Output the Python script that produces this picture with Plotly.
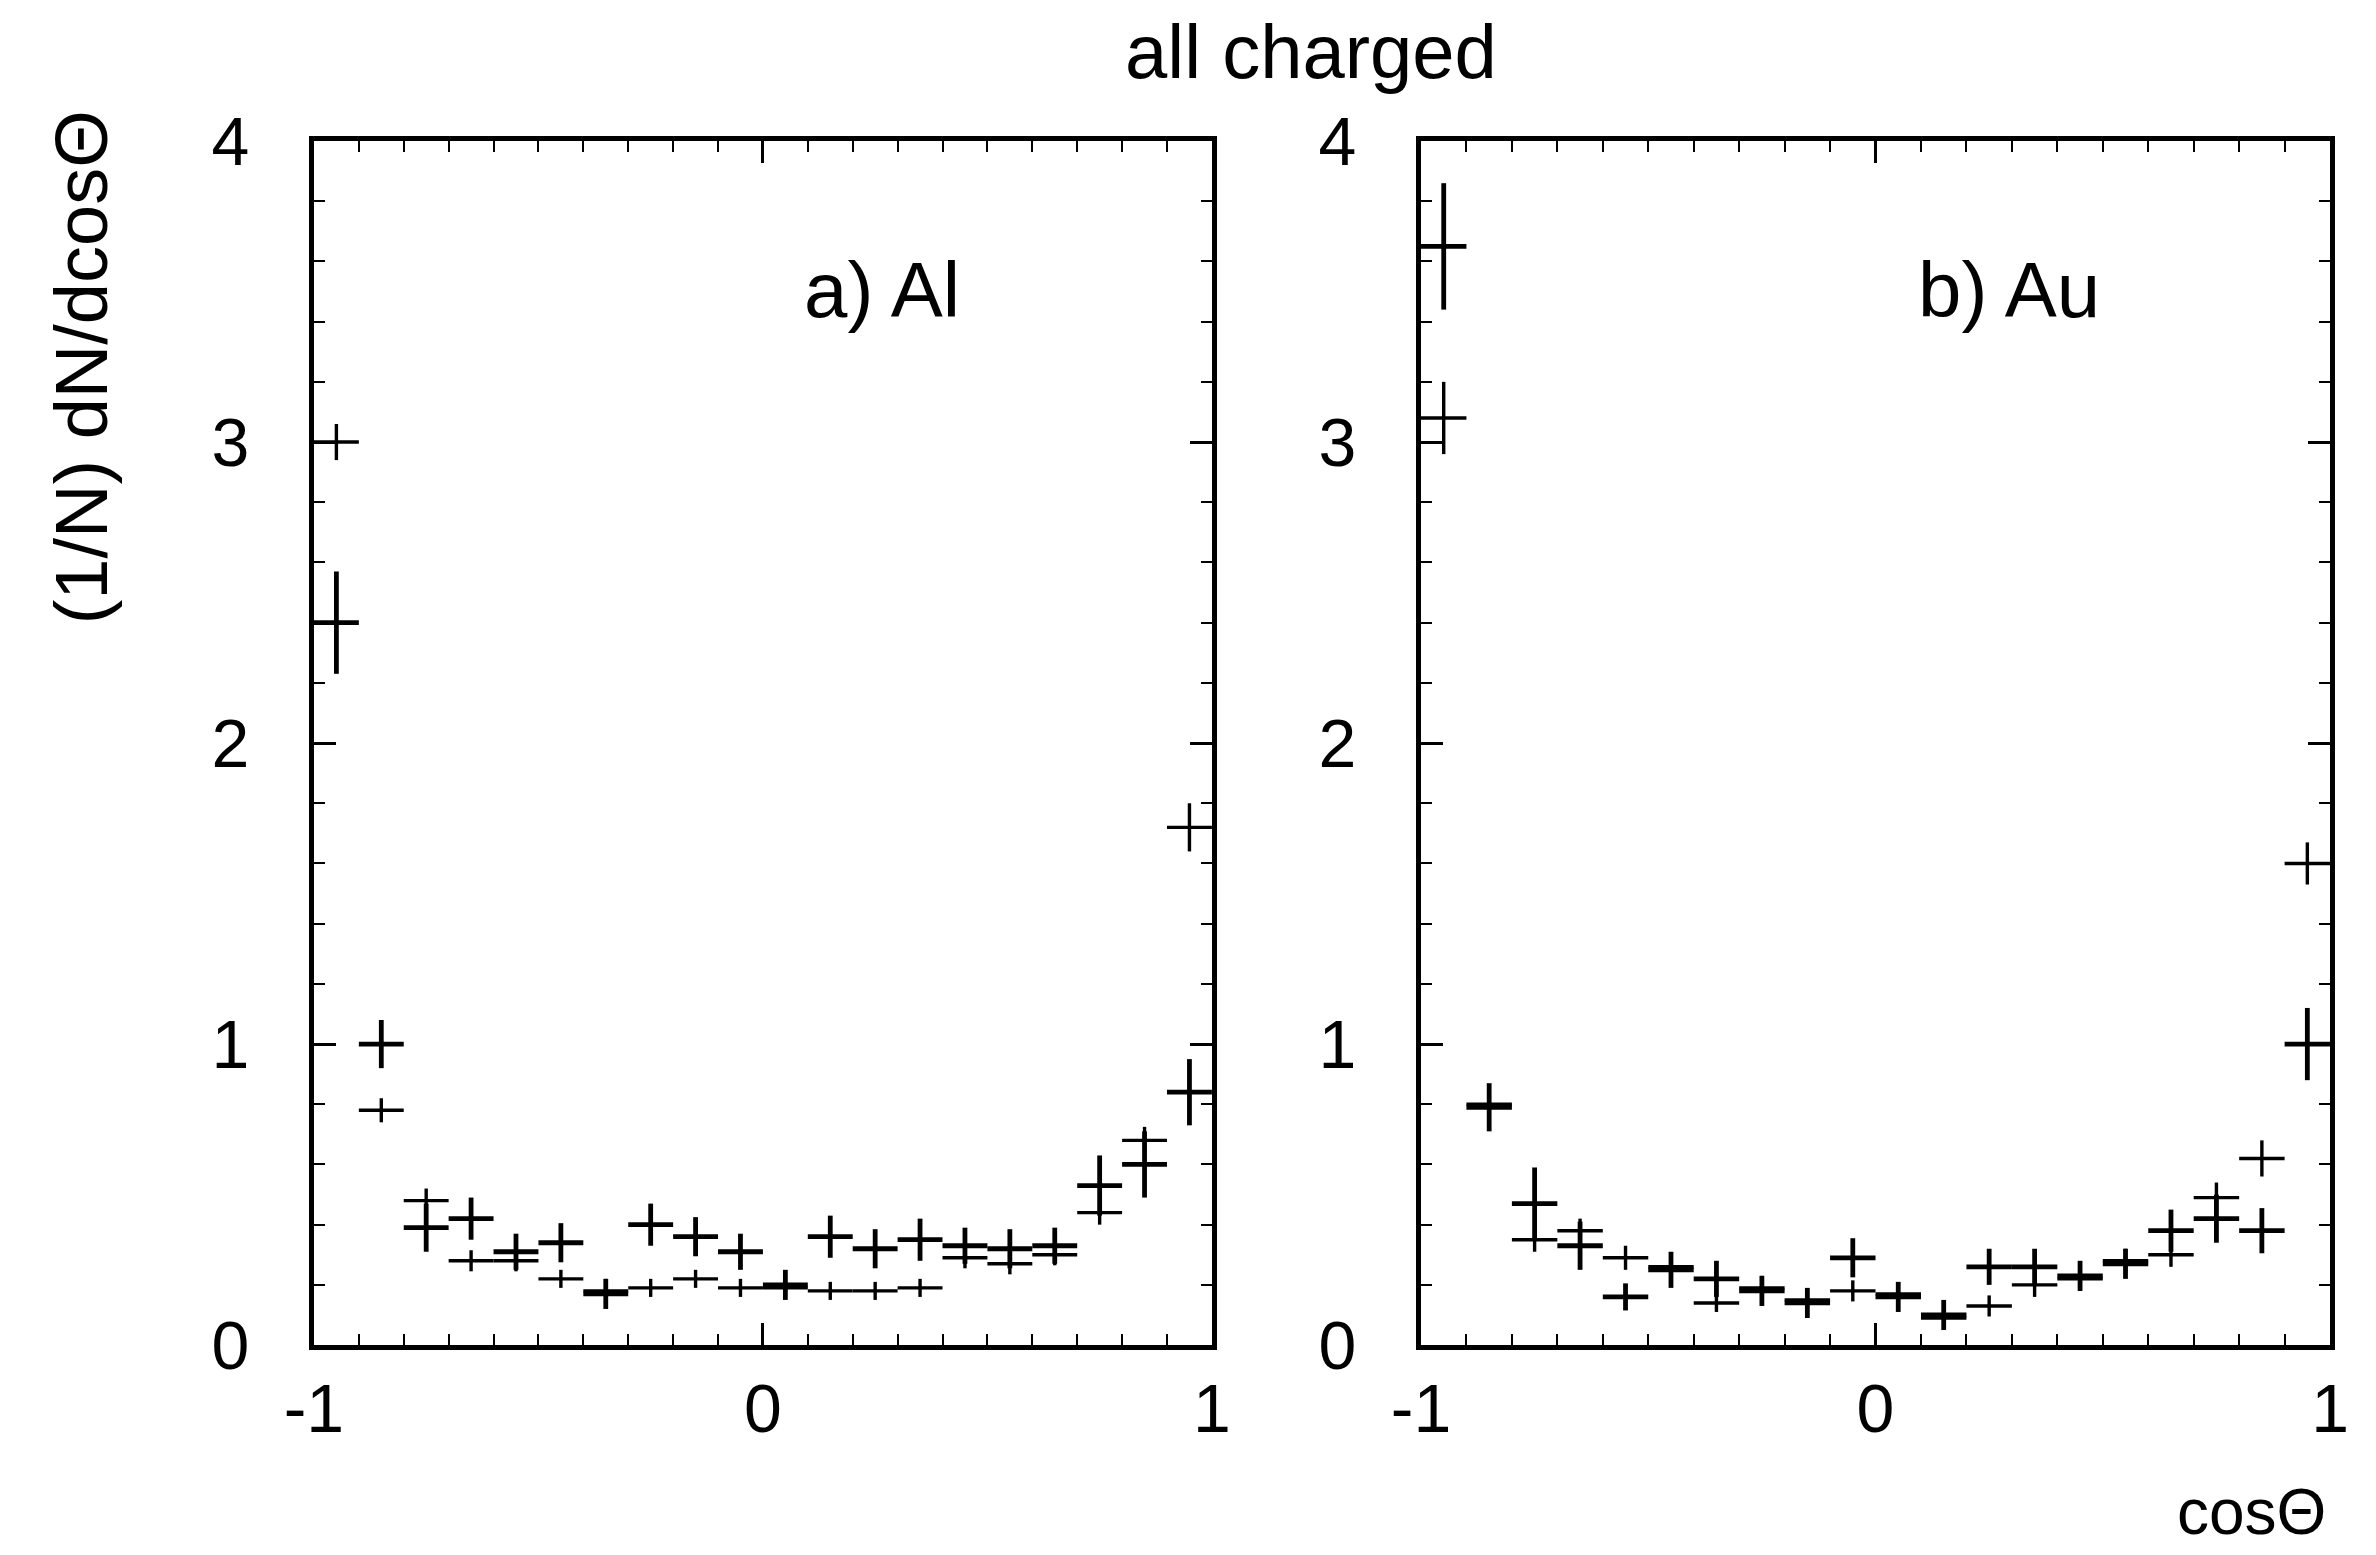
import plotly.graph_objects as go

# bin centres of cos(theta)
cos_bins = [-0.95, -0.85, -0.75, -0.65, -0.55, -0.45, -0.35, -0.25, -0.15, -0.05,
            0.05, 0.15, 0.25, 0.35, 0.45, 0.55, 0.65, 0.75, 0.85, 0.95]
half_bin = [0.05] * 20

# a) Al
al_solid = [2.40, 1.00, 0.39, 0.42, 0.31, 0.34, 0.17, 0.40, 0.36, 0.31,
            0.20, 0.36, 0.32, 0.35, 0.33, 0.32, 0.33, 0.53, 0.60, 0.84]
al_solid_err = [0.17, 0.08, 0.08, 0.07, 0.06, 0.065, 0.05, 0.07, 0.065, 0.06,
                0.05, 0.07, 0.065, 0.07, 0.06, 0.065, 0.06, 0.10, 0.11, 0.11]
al_dash = [3.00, 0.78, 0.48, 0.28, 0.28, 0.22, 0.18, 0.19, 0.22, 0.19,
           0.19, 0.18, 0.18, 0.19, 0.29, 0.27, 0.30, 0.44, 0.68, 1.72]
al_dash_err = [0.06, 0.04, 0.04, 0.035, 0.035, 0.03, 0.04, 0.03, 0.03, 0.03,
               0.03, 0.03, 0.03, 0.03, 0.035, 0.035, 0.035, 0.04, 0.045, 0.08]

# b) Au
au_solid = [3.65, 0.79, 0.47, 0.33, 0.16, 0.25, 0.22, 0.18, 0.14, 0.29,
            0.16, 0.10, 0.26, 0.26, 0.23, 0.27, 0.38, 0.42, 0.38, 1.00]
au_solid_err = [0.21, 0.08, 0.12, 0.08, 0.045, 0.06, 0.06, 0.05, 0.05, 0.065,
                0.05, 0.05, 0.06, 0.06, 0.05, 0.05, 0.07, 0.08, 0.075, 0.12]
au_dash = [3.08, 0.80, 0.35, 0.38, 0.29, 0.26, 0.14, 0.19, 0.15, 0.18,
           0.17, 0.09, 0.13, 0.20, 0.22, 0.28, 0.30, 0.49, 0.62, 1.60]
au_dash_err = [0.12, 0.05, 0.04, 0.04, 0.04, 0.04, 0.03, 0.04, 0.03, 0.035,
               0.035, 0.03, 0.035, 0.04, 0.04, 0.04, 0.04, 0.05, 0.06, 0.07]

x_ticks = [-1, 0, 1]
x_ticktext = ["-1", "0", "1"]
y_ticks = [0, 1, 2, 3, 4]
y_ticktext = ["0", "1", "2", "3", "4"]

FONT = "Liberation Sans, Arial, Helvetica, sans-serif"

fig = go.Figure()


def add_series(y, yerr, xa, ya, thick):
    fig.add_trace(go.Scatter(
        x=cos_bins, y=y, mode="markers",
        marker=dict(size=1, color="black", opacity=0),
        error_x=dict(type="data", array=half_bin, visible=True,
                     thickness=thick, width=0, color="black"),
        error_y=dict(type="data", array=yerr, visible=True,
                     thickness=thick, width=0, color="black"),
        xaxis=xa, yaxis=ya, showlegend=False, hoverinfo="x+y",
    ))


add_series(al_solid, al_solid_err, "x", "y", 4.8)
add_series(al_dash, al_dash_err, "x", "y", 3.4)
add_series(au_solid, au_solid_err, "x2", "y2", 4.8)
add_series(au_dash, au_dash_err, "x2", "y2", 3.4)

xcommon = dict(range=[-1, 1], tickvals=x_ticks, ticktext=x_ticktext,
               ticks="inside", ticklen=22, tickwidth=3, tickcolor="black",
               minor=dict(dtick=0.1, tick0=0, ticks="inside", ticklen=11,
                          tickwidth=2, tickcolor="black"),
               showline=True, linewidth=5, linecolor="black", mirror="allticks",
               showgrid=False, zeroline=False, automargin=False,
               tickfont=dict(family=FONT, size=68, color="black"),
               ticklabelstandoff=0)
ycommon = dict(range=[0, 4], tickvals=y_ticks, ticktext=y_ticktext,
               ticks="inside", ticklen=22, tickwidth=3, tickcolor="black",
               minor=dict(dtick=0.2, tick0=0, ticks="inside", ticklen=11,
                          tickwidth=2, tickcolor="black"),
               showline=True, linewidth=5, linecolor="black", mirror="allticks",
               showgrid=False, zeroline=False, automargin=False,
               tickfont=dict(family=FONT, size=68, color="black"),
               ticklabelstandoff=46)

fig.update_layout(
    width=2368, height=1547,
    margin=dict(l=0, r=0, t=0, b=0, autoexpand=False),
    paper_bgcolor="white", plot_bgcolor="white",
    showlegend=False,
    xaxis=dict(domain=[0.1292, 0.5084], anchor="y", **xcommon),
    yaxis=dict(domain=[0.1357, 0.9140], anchor="x", **ycommon),
    xaxis2=dict(domain=[0.5967, 0.9806], anchor="y2", **xcommon),
    yaxis2=dict(domain=[0.1357, 0.9140], anchor="x2", **ycommon),
    annotations=[
        dict(text="all charged", x=0.5503, y=0.9716, xref="paper", yref="paper",
             xanchor="center", yanchor="middle", showarrow=False,
             font=dict(family=FONT, size=76, color="black")),
        dict(text="a) Al", x=0.088, y=3.505, xref="x", yref="y",
             xanchor="left", yanchor="middle", showarrow=False,
             font=dict(family=FONT, size=78, color="black")),
        dict(text="b) Au", x=0.088, y=3.505, xref="x2", yref="y2",
             xanchor="left", yanchor="middle", showarrow=False,
             font=dict(family=FONT, size=78, color="black")),
        dict(text="(1/N) dN/dcosΘ", x=0.031, y=0.768, xref="paper", yref="paper",
             xanchor="center", yanchor="middle", textangle=-90, showarrow=False,
             font=dict(family=FONT, size=74, color="black")),
        dict(text="cosΘ", x=0.9797, y=0.0278, xref="paper", yref="paper",
             xanchor="right", yanchor="middle", showarrow=False,
             font=dict(family=FONT, size=64, color="black")),
    ],
)

fig.write_html("out.html")
